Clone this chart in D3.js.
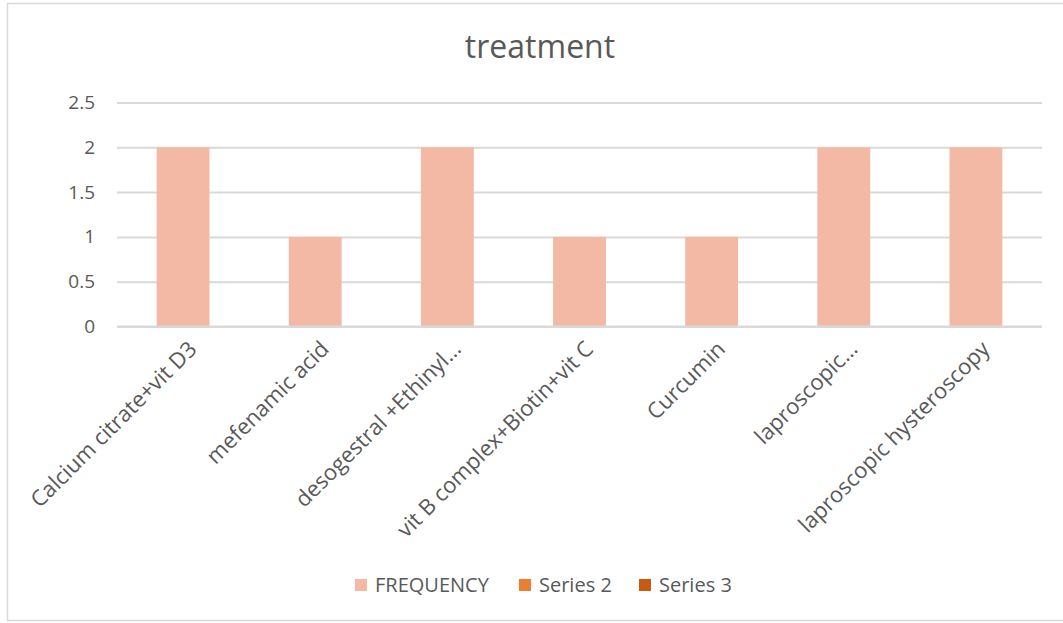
<!DOCTYPE html>
<html>
<head>
<meta charset="utf-8">
<script src="https://cdn.jsdelivr.net/npm/d3@7"></script>
<style>
  html, body { margin: 0; padding: 0; background: #fff; }
  svg { display: block; font-family: "Open Sans", "Noto Sans", sans-serif; }
</style>
</head>
<body>
<svg id="chart" width="1063" height="623"></svg>
<script>
// Treatment frequency data
const categories = [
  "Calcium citrate+vit D3",
  "mefenamic acid",
  "desogestral +Ethinyl…",
  "vit B complex+Biotin+vit C",
  "Curcumin",
  "laproscopic…",
  "laproscopic hysteroscopy"
];
const frequency = [2, 1, 2, 1, 1, 2, 2];
const yTicks = [0, 0.5, 1, 1.5, 2, 2.5];
const legendNames = ["FREQUENCY", "Series 2", "Series 3"];
const legendColors = ["#F4B9A5", "#ED7D31", "#C55A11"];

const svg = d3.select("#chart");
const textColor = "#595959";

// Chart area border
svg.append("rect")
  .attr("x", 7.5).attr("y", 3.5)
  .attr("width", 1070).attr("height", 617)
  .attr("fill", "#fff")
  .attr("stroke", "#d9d9d9").attr("stroke-width", 1.5);

const plot = { left: 117, right: 1042, top: 102.5, bottom: 326.5 };

const x = d3.scaleBand()
  .domain(categories)
  .range([plot.left, plot.right])
  .paddingInner(0.6)
  .paddingOuter(0.3);

const y = d3.scaleLinear()
  .domain([0, 2.5])
  .range([plot.bottom, plot.top]);

// Title
svg.append("text")
  .attr("x", 540).attr("y", 58)
  .attr("text-anchor", "middle")
  .attr("fill", textColor)
  .attr("font-size", 32)
  .text("treatment");

// Gridlines and value axis
const yAxis = d3.axisLeft(y)
  .tickValues(yTicks)
  .tickSize(-(plot.right - plot.left))
  .tickPadding(22)
  .tickFormat(d3.format("~g"));

const gy = svg.append("g")
  .attr("transform", `translate(${plot.left},0)`)
  .call(yAxis);
gy.select(".domain").remove();
gy.selectAll(".tick line").attr("stroke", "#d9d9d9").attr("stroke-width", 2);
gy.selectAll(".tick text")
  .attr("fill", textColor)
  .attr("font-size", 19)
  .attr("font-family", "Open Sans, sans-serif");

// Bars
svg.append("g")
  .selectAll("rect")
  .data(categories)
  .join("rect")
  .attr("x", d => x(d))
  .attr("width", x.bandwidth())
  .attr("y", (d, i) => y(frequency[i]))
  .attr("height", (d, i) => y(0) - y(frequency[i]))
  .attr("fill", legendColors[0]);

// Baseline drawn over bars
svg.append("line")
  .attr("x1", plot.left).attr("x2", plot.right)
  .attr("y1", y(0)).attr("y2", y(0))
  .attr("stroke", "#d9d9d9").attr("stroke-width", 2);

// Category axis with rotated labels
const xAxis = d3.axisBottom(x).tickSize(0).tickPadding(0);
const gx = svg.append("g")
  .attr("transform", `translate(0,${plot.bottom})`)
  .call(xAxis);
gx.select(".domain").remove();
gx.selectAll(".tick text")
  .attr("fill", textColor)
  .attr("font-size", 22)
  .attr("font-family", "Open Sans, sans-serif")
  .attr("text-anchor", "end")
  .attr("dy", null)
  .attr("transform", "translate(15,24) rotate(-45)");

// Legend
const legendX = [355, 519, 639];
const lg = svg.append("g");
legendNames.forEach((name, i) => {
  lg.append("rect")
    .attr("x", legendX[i]).attr("y", 579)
    .attr("width", 12).attr("height", 12)
    .attr("fill", legendColors[i]);
  lg.append("text")
    .attr("x", legendX[i] + 20).attr("y", 592)
    .attr("fill", textColor)
    .attr("font-size", 20)
    .text(name);
});
</script>
</body>
</html>
